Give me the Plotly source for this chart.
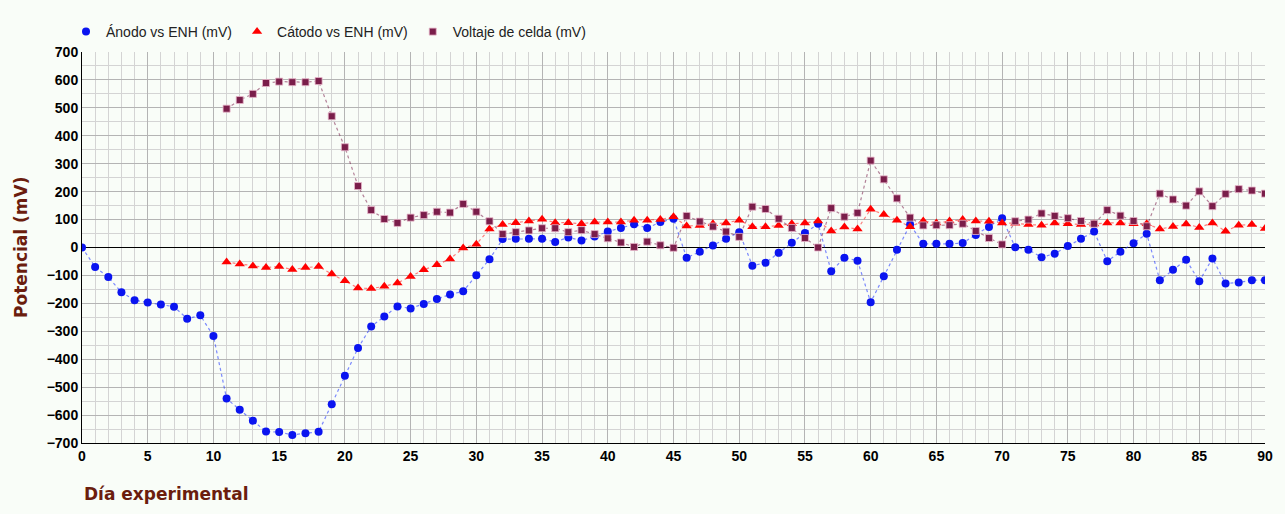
import plotly.graph_objects as go

# Datos (mV por día experimental)
dias = list(range(0, 91))

anodo = [
    0, -70, -106, -160, -189, -197, -204, -212, -255, -243,
    -317, -541, -581, -620, -659, -661, -671, -665, -660, -561,
    -459, -360, -283, -247, -211, -218, -202, -184, -168, -157,
    -99, -42, 30, 31, 31, 31, 20, 36, 25, 39,
    57, 70, 83, 70, 91, 103, -37, -15, 7, 31,
    55, -65, -55, -19, 17, 52, 85, -85, -37, -47,
    -196, -103, -8, 82, 13, 13, 13, 16, 45, 73,
    105, 1, -8, -35, -22, 5, 31, 57, -49, -15,
    15, 49, -117, -80, -44, -121, -39, -129, -125, -117,
    -117,
]

dias_cat = list(range(11, 91))
catodo = [
    -52, -59, -66, -72, -68, -79, -72, -68, -95,
    -119, -145, -147, -139, -127, -104, -80, -62, -41, -2,
    12, 66, 82, 89, 95, 101, 89, 89, 85, 91,
    91, 91, 98, 98, 100, 110, 77, 79, 85, 88,
    98, 74, 74, 79, 85, 88, 95, 59, 73, 66,
    137, 118, 98, 74, 95, 88, 95, 100, 95, 94,
    88, 87, 82, 80, 88, 85, 82, 84, 88, 88,
    85, 85, 66, 75, 84, 72, 88, 58, 80, 82,
    68,
]

celda = [
    497, 528, 550, 589, 594, 592, 592, 596, 470,
    359, 220, 134, 102, 88, 107, 116, 128, 125, 156,
    128, 94, 48, 55, 61, 69, 69, 55, 62, 48,
    33, 18, 2, 21, 8, -1, 113, 93, 75, 57,
    38, 146, 138, 103, 70, 34, 0, 141, 110, 124,
    311, 244, 176, 107, 79, 80, 80, 85, 59, 34,
    11, 94, 100, 122, 113, 105, 95, 85, 134, 114,
    95, 76, 193, 172, 150, 201, 148, 192, 209, 204,
    193,
]

titulo_color = "#6b1d0e"
fondo = "#f9fdf8"
fuente_titulo = "DejaVu Sans"

series = [
    ("Ánodo vs ENH (mV)", dias, anodo, "circle", 8, "#0a14f0", "rgba(40,60,255,0.6)"),
    ("Cátodo vs ENH (mV)", dias_cat, catodo, "triangle-up", 9, "#ff0000", "rgba(255,40,40,0.6)"),
    ("Voltaje de celda (mV)", dias_cat, celda, "square", 7, "#7a1e4a", "rgba(122,30,74,0.55)"),
]

fig = go.Figure()

# líneas punteadas (sin leyenda)
for nombre, x, y, simbolo, tam, color, color_linea in series:
    fig.add_trace(go.Scatter(
        x=x, y=y, mode="lines", showlegend=False, hoverinfo="skip",
        line=dict(color=color_linea, width=1.2, dash="dot"),
    ))

# marcadores
for nombre, x, y, simbolo, tam, color, color_linea in series:
    borde = dict(color="rgba(230,180,200,0.8)", width=1) if simbolo == "square" else dict(width=0)
    fig.add_trace(go.Scatter(
        x=x, y=y, name=nombre, mode="markers",
        marker=dict(symbol=simbolo, size=tam, color=color, line=borde),
    ))

fig.add_annotation(
    text="<b>Día experimental</b>", xref="paper", yref="paper",
    x=0, y=-0.1, xanchor="left", yanchor="top", showarrow=False,
    font=dict(size=17, color=titulo_color, family=fuente_titulo),
)
fig.add_annotation(
    text="<b>Potencial (mV)</b>", xref="paper", yref="paper",
    x=-0.052, y=0.5, xanchor="center", yanchor="middle", showarrow=False,
    textangle=-90,
    font=dict(size=17, color=titulo_color, family=fuente_titulo),
)

fig.update_layout(
    width=1285, height=514,
    paper_bgcolor=fondo, plot_bgcolor=fondo,
    margin=dict(l=82, r=20, t=52, b=71),
    font=dict(family="Liberation Sans, Arial", size=13, color="black"),
    showlegend=True,
    legend=dict(orientation="h", x=66 / 1285, y=1 - 32 / 514, xref="container", yref="container",
                xanchor="left", yanchor="middle", itemwidth=30,
                font=dict(size=14, color="#222222"), bgcolor="rgba(0,0,0,0)"),
    xaxis=dict(
        range=[0, 90], dtick=5, tick0=0, automargin=False,
        showgrid=True, gridcolor="#b4b4b4", gridwidth=1,
        minor=dict(dtick=1, showgrid=True, gridcolor="#d4d4d4", gridwidth=1),
        showline=True, linecolor="black", linewidth=1,
        zeroline=False, tickfont=dict(size=14, color="black"),
        ticks="",
    ),
    yaxis=dict(
        range=[-700, 700], dtick=100, automargin=False,
        showgrid=True, gridcolor="#b4b4b4", gridwidth=1,
        minor=dict(dtick=50, showgrid=True, gridcolor="#d4d4d4", gridwidth=1),
        showline=True, linecolor="black", linewidth=1,
        zeroline=True, zerolinecolor="black", zerolinewidth=1,
        tickfont=dict(size=14, color="black"),
    ),
)

# etiquetas en negrita
fig.update_xaxes(tickprefix="<b>", ticksuffix="</b>")
fig.update_yaxes(tickprefix="<b>", ticksuffix="</b>")

fig.write_html("out.html", config={"displayModeBar": False},
               post_script="document.body.style.margin='0';")
